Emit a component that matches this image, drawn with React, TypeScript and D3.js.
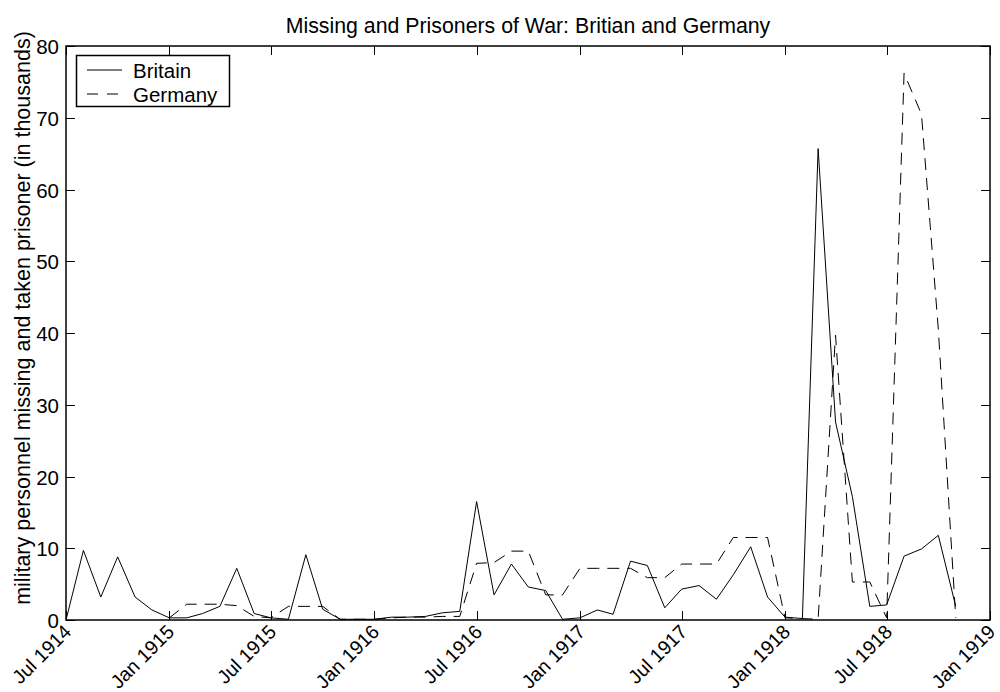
import React from "react";
import * as d3 from "d3";

const britainStart = "1914-07";
const britainValues = [
  0, 9.7, 3.2, 8.8, 3.2, 1.4,
  0.3, 0.3, 0.9, 1.9, 7.2, 0.9, 0.3, 0.1, 9.1, 1.5, 0.1, 0.1,
  0.1, 0.4, 0.4, 0.5, 1.0, 1.2, 16.5, 3.5, 7.8, 4.6, 4.1, 0.1,
  0.3, 1.4, 0.8, 8.2, 7.6, 1.7, 4.3, 4.8, 2.9, 6.3, 10.2, 3.2,
  0.4, 0.2, 65.7, 27.6, 17.2, 1.9, 2.1, 8.9, 9.9, 11.8, 1.9,
];

const germanyStart = "1915-01";
const germanyValues = [
  0.3, 2.2, 2.2, 2.2, 2.0, 0.5, 0.3, 1.9, 1.9, 1.9, 0.1, 0.1,
  0.1, 0.3, 0.4, 0.4, 0.5, 0.5, 7.9, 8.0, 9.6, 9.6, 3.5, 3.5,
  7.2, 7.2, 7.2, 7.2, 5.9, 5.9, 7.8, 7.8, 7.8, 11.5, 11.5, 11.5,
  0.3, 0.2, 0.1, 39.7, 5.3, 5.3, 0.3, 76.2, 70.5, 40.5, 0.3,
];

const xTickDates = [
  "1914-07", "1915-01", "1915-07", "1916-01", "1916-07",
  "1917-01", "1917-07", "1918-01", "1918-07", "1919-01",
];
const yTicks = [0, 10, 20, 30, 40, 50, 60, 70, 80];

const seriesNames = ["Britain", "Germany"];
const title = "Missing and Prisoners of War: Britian and Germany";
const yLabel = "military personnel missing and taken prisoner (in thousands)";

const W = 1000;
const H = 692;
const M = { left: 66, right: 990, top: 46, bottom: 620 };
const FONT = "'Liberation Sans', Arial, Helvetica, sans-serif";
const FS = 20.5;
const XFS = 19.5;

const parseMonth = d3.timeParse("%Y-%m");
const fmt = d3.timeFormat("%b %Y");

function toSeries(start: string, values: number[]) {
  const s = parseMonth(start)!;
  return values.map((v, i) => ({ date: d3.timeMonth.offset(s, i), value: v }));
}

export default function App() {
  const x = d3
    .scaleTime()
    .domain([parseMonth("1914-07")!, parseMonth("1919-01")!])
    .range([M.left, M.right]);
  const y = d3.scaleLinear().domain([0, 80]).range([M.bottom, M.top]);

  const line = d3
    .line<{ date: Date; value: number }>()
    .x((d) => x(d.date))
    .y((d) => y(d.value));

  const britain = toSeries(britainStart, britainValues);
  const germany = toSeries(germanyStart, germanyValues);
  const tickLen = 9;
  const dash = "12,8";

  return (
    <svg width={W} height={H} style={{ display: "block", position: "absolute", left: 0, top: 0 }} fontFamily={FONT}>
      <rect x={0} y={0} width={W} height={H} fill="#fff" />
      <text x={(M.left + M.right) / 2} y={33} textAnchor="middle" fontSize={21.3} fill="#000">
        {title}
      </text>
      <defs>
        <clipPath id="clip">
          <rect x={M.left} y={M.top} width={M.right - M.left} height={M.bottom - M.top} />
        </clipPath>
      </defs>
      <g clipPath="url(#clip)">
        <path d={line(britain)!} fill="none" stroke="#000" strokeWidth={1} />
        <path d={line(germany)!} fill="none" stroke="#000" strokeWidth={1} strokeDasharray={dash} />
      </g>
      <rect
        x={M.left}
        y={M.top}
        width={M.right - M.left}
        height={M.bottom - M.top}
        fill="none"
        stroke="#000"
        strokeWidth={1.5}
      />
      {xTickDates.map((s) => {
        const d = parseMonth(s)!;
        const px = Math.round(x(d)) + 0.5;
        return (
          <g key={s}>
            <line x1={px} x2={px} y1={M.bottom} y2={M.bottom - tickLen} stroke="#000" />
            <line x1={px} x2={px} y1={M.top} y2={M.top + tickLen} stroke="#000" />
            <text
              transform={`translate(${px + 1},${M.bottom + 8}) rotate(-45)`}
              textAnchor="end"
              dominantBaseline="central"
              fontSize={XFS}
              fill="#000"
            >
              {fmt(d)}
            </text>
          </g>
        );
      })}
      {yTicks.map((t) => {
        const py = Math.round(y(t)) + 0.5;
        return (
          <g key={t}>
            <line x1={M.left} x2={M.left + tickLen} y1={py} y2={py} stroke="#000" />
            <line x1={M.right} x2={M.right - tickLen} y1={py} y2={py} stroke="#000" />
            <text x={M.left - 7} y={py} textAnchor="end" dominantBaseline="central" fontSize={FS} fill="#000">
              {t}
            </text>
          </g>
        );
      })}
      <text
        transform={`translate(30,318) rotate(-90)`}
        textAnchor="middle"
        fontSize={21.5}
        fill="#000"
      >
        {yLabel}
      </text>
      <g>
        <rect x={76.5} y={55.5} width={153} height={51} fill="#fff" stroke="#000" strokeWidth={1.5} />
        {seriesNames.map((n, i) => {
          const ly = 70 + i * 24;
          return (
            <g key={n}>
              <line
                x1={87}
                x2={122}
                y1={ly}
                y2={ly}
                stroke="#000"
                strokeDasharray={i === 1 ? "11,9" : undefined}
              />
              <text x={133} y={ly} dominantBaseline="central" fontSize={FS} fill="#000">
                {n}
              </text>
            </g>
          );
        })}
      </g>
    </svg>
  );
}
